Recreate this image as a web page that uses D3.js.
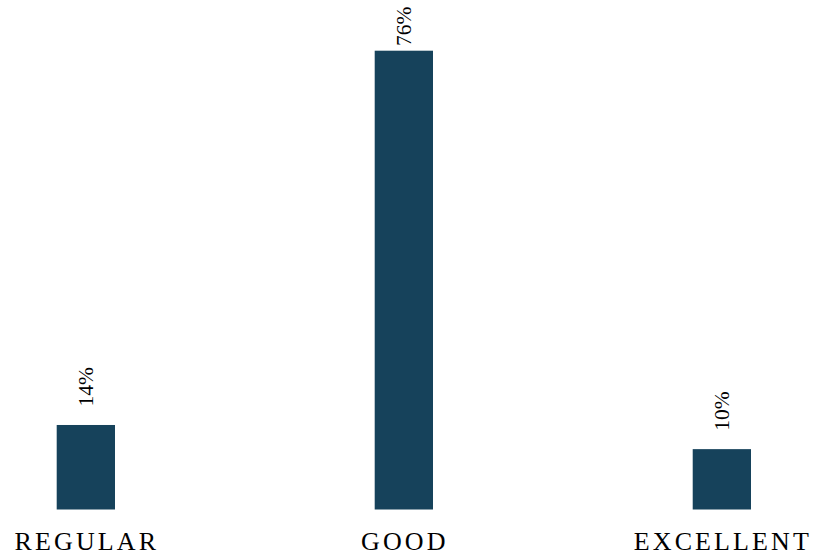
<!DOCTYPE html>
<html>
<head>
<meta charset="utf-8">
<script src="https://cdn.jsdelivr.net/npm/d3@7"></script>
<style>
  html, body { margin: 0; padding: 0; background: #fff; }
  svg { display: block; }
</style>
</head>
<body>
<svg id="chart" width="813" height="556"></svg>
<script>
const categories = ["REGULAR", "GOOD", "EXCELLENT"];
const values = [14, 76, 10];
const valueLabels = ["14%", "76%", "10%"];

const svg = d3.select("#chart");
const baseY = 509.5;

const x = d3.scaleBand()
  .domain(categories)
  .range([56.7, 751])
  .paddingInner(0.8167)
  .paddingOuter(0);

const y = d3.scaleLinear()
  .domain([0, 76])
  .range([baseY, 50.7]);

const data = categories.map((c, i) => ({ c, v: values[i], label: valueLabels[i] }));

svg.append("g").selectAll("rect")
  .data(data)
  .join("rect")
  .attr("x", d => x(d.c))
  .attr("y", d => y(d.v))
  .attr("width", x.bandwidth())
  .attr("height", d => baseY - y(d.v))
  .attr("fill", "#16425b");

svg.append("g").selectAll("text")
  .data(data)
  .join("text")
  .attr("transform", d => {
    const cx = x(d.c) + x.bandwidth() / 2;
    const ty = Math.max(y(d.v) - 18.5, 46);
    return `translate(${cx},${ty}) rotate(-90)`;
  })
  .attr("dy", "0.31em")
  .attr("text-anchor", "start")
  .style("font-family", "'Liberation Serif', 'Times New Roman', serif")
  .style("font-size", "21.5px")
  .attr("fill", "#000")
  .text(d => d.label);

const xAxis = svg.append("g")
  .attr("transform", `translate(0,${baseY})`)
  .call(d3.axisBottom(x).tickSize(0).tickPadding(0));
xAxis.select(".domain").remove();
xAxis.selectAll("text")
  .attr("y", 0)
  .attr("dy", "40.5px")
  .attr("dx", "1px")
  .style("font-family", "'Liberation Serif', 'Times New Roman', serif")
  .style("font-size", "26px")
  .style("letter-spacing", "3.1px")
  .attr("fill", "#000");
</script>
</body>
</html>
